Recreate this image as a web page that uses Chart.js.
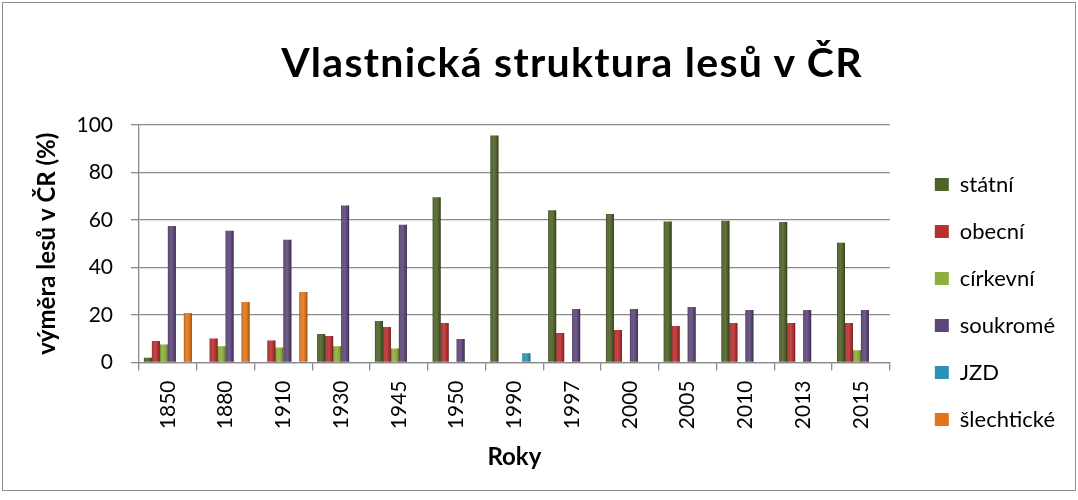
<html>
  <head>
    <title>Vlastnická struktura lesů v ČR</title>
    <script src="https://cdn.jsdelivr.net/npm/chart.js"></script>
    <style>
      body {
        margin: 0;
        padding: 0;
        background-color: #ffffff;
        overflow: hidden;
      }
      .wrap {
        position: relative;
        width: 1078px;
        height: 500px;
      }
      #lesyChart {
        position: absolute;
        left: 0;
        top: 0;
      }
      /* chart frame */
      .frame {
        position: absolute;
        left: 2px;
        top: 2px;
        width: 1072px;
        height: 487px;
        border: 1px solid #8f8f8f;
        pointer-events: none;
      }
      .title {
        position: absolute;
        left: 572px;
        top: 41px;
        transform: translateX(-50%);
        white-space: nowrap;
        font-family: Lato, sans-serif;
        font-weight: bold;
        font-size: 41px;
        letter-spacing: 1.3px;
        line-height: 1;
        color: #000;
      }
    </style>
  </head>
  <body>
    <div class="wrap">
      <canvas id="lesyChart" width="1078" height="500"></canvas>
      <div class="frame"></div>
      <div class="title">Vlastnická struktura lesů v ČR</div>
    </div>

    <script>
      // data (% of forest area)
      const years = ['1850', '1880', '1910', '1930', '1945', '1950', '1990', '1997', '2000', '2005', '2010', '2013', '2015'];
      const statni     = [2.0, 0, 0, 12.0, 17.5, 69.6, 95.6, 64.1, 62.5, 59.4, 59.7, 59.2, 50.4];
      const obecni     = [9.0, 10.1, 9.3, 11.1, 14.9, 16.6, 0, 12.4, 13.7, 15.4, 16.6, 16.6, 16.6];
      const cirkevni   = [7.6, 6.8, 6.3, 6.8, 5.9, 0, 0, 0, 0, 0, 0, 0, 5.2];
      const soukrome   = [57.5, 55.5, 51.7, 66.1, 58.0, 9.9, 0.3, 22.5, 22.5, 23.4, 22.1, 22.1, 22.1];
      const jzd        = [0, 0, 0, 0, 0, 0, 3.9, 0, 0, 0, 0, 0, 0];
      const slechticke = [20.8, 25.5, 29.7, 0, 0, 0, 0, 0, 0, 0, 0, 0, 0];
      const yTicks = [0, 20, 40, 60, 80, 100];

      const gridColor = '#8a8a8a';
      const font = 'Lato, sans-serif';

      // light bevel shading over each bar, like the office 3D style
      const bevel = {
        id: 'bevel',
        afterDatasetsDraw(chart) {
          const ctx = chart.ctx;
          chart.data.datasets.forEach((ds, i) => {
            const meta = chart.getDatasetMeta(i);
            if (meta.hidden) return;
            meta.data.forEach(bar => {
              const p = bar.getProps(['x', 'y', 'base', 'width'], true);
              const h = p.base - p.y;
              if (h <= 0.5) return;
              const l = p.x - p.width / 2;
              const g = ctx.createLinearGradient(l, 0, l + p.width, 0);
              g.addColorStop(0, 'rgba(0,0,0,0.35)');
              g.addColorStop(0.25, 'rgba(255,255,255,0.06)');
              g.addColorStop(0.5, 'rgba(255,255,255,0.12)');
              g.addColorStop(0.8, 'rgba(0,0,0,0.05)');
              g.addColorStop(1, 'rgba(0,0,0,0.45)');
              ctx.save();
              ctx.fillStyle = g;
              ctx.fillRect(l, p.y, p.width, h);
              ctx.restore();
            });
          });
        }
      };

      const ctx = document.getElementById('lesyChart').getContext('2d');
      const lesyChart = new Chart(ctx, {
        type: 'bar',
        data: {
          labels: years,
          datasets: [
            { label: 'státní', data: statni, backgroundColor: '#4F6228' },
            { label: 'obecní', data: obecni, backgroundColor: '#B83030' },
            { label: 'církevní', data: cirkevni, backgroundColor: '#8CAE3A' },
            { label: 'soukromé', data: soukrome, backgroundColor: '#5E4679' },
            { label: 'JZD', data: jzd, backgroundColor: '#2C93B4' },
            { label: 'šlechtické', data: slechticke, backgroundColor: '#E2751A' }
          ]
        },
        options: {
          responsive: false,
          animation: false,
          categoryPercentage: 0.83,
          barPercentage: 1.0,
          layout: {
            padding: { top: 125, left: 19, right: 13, bottom: 21 }
          },
          plugins: {
            title: { display: false },
            tooltip: { enabled: false },
            legend: {
              position: 'right',
              labels: {
                boxWidth: 14,
                boxHeight: 13,
                padding: 25,
                color: '#000',
                font: { family: font, size: 22 }
              }
            }
          },
          scales: {
            x: {
              grid: {
                offset: true,
                drawOnChartArea: false,
                color: gridColor,
                lineWidth: 1.3,
                tickLength: 8
              },
              border: { color: gridColor, width: 1.3 },
              ticks: {
                autoSkip: false,
                minRotation: 90,
                maxRotation: 90,
                padding: 10,
                color: '#000',
                font: { family: font, size: 21 }
              },
              title: {
                display: true,
                text: 'Roky',
                color: '#000',
                padding: { top: 4, bottom: 7 },
                font: { family: font, size: 24, weight: 'bold' }
              }
            },
            y: {
              min: 0,
              max: 100,
              afterBuildTicks(scale) {
                scale.ticks = yTicks.map(v => ({ value: v }));
              },
              afterFit(scale) { scale.width = 120; },
              grid: {
                color: gridColor,
                lineWidth: 1.3,
                tickLength: 8
              },
              border: { color: gridColor, width: 1.3 },
              ticks: {
                padding: 18,
                color: '#000',
                font: { family: font, size: 21 }
              },
              title: {
                display: true,
                text: 'výměra lesů v ČR (%)',
                color: '#000',
                padding: { top: 14, bottom: 0 },
                font: { family: font, size: 24, weight: 'bold' }
              }
            },
            // empty axis that keeps a gap between the plot and the legend
            gap: {
              position: 'right',
              display: true,
              grid: { display: false },
              border: { display: false },
              ticks: { display: false },
              afterFit(scale) { scale.width = 20; }
            }
          }
        },
        plugins: [bevel]
      });
    </script>
  </body>
</html>
